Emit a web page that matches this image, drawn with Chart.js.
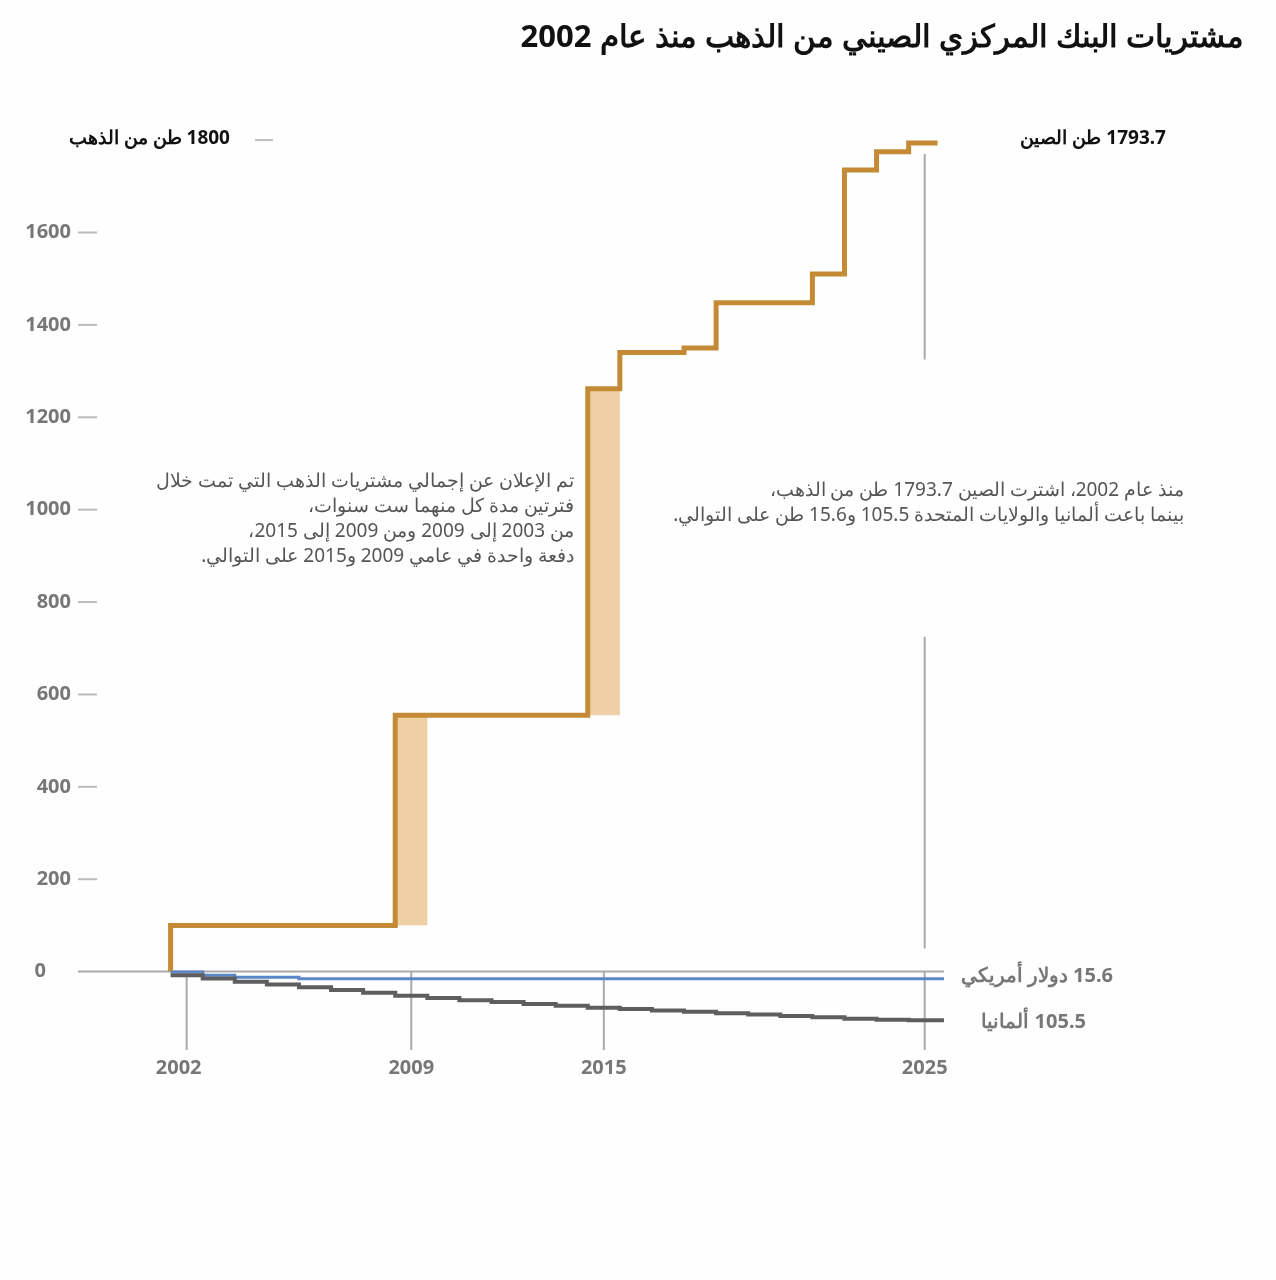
<!DOCTYPE html>
<html>
<head>
<meta charset="utf-8">
<script src="https://cdn.jsdelivr.net/npm/chart.js@4"></script>
<style>
body{margin:0;background:#fff;font-family:"Noto Sans",sans-serif}
#wrap{position:relative;width:1276px;height:1280px;background:#fefefe}
canvas{position:absolute;left:0;top:0}
.t{position:absolute;direction:rtl;white-space:nowrap}
</style>
</head>
<body>
<div id="wrap">
<canvas id="c" width="1276" height="1280"></canvas>
<div class="t" style="right:32px;top:14px;font-size:31px;font-weight:700;color:#111">مشتريات البنك المركزي الصيني من الذهب منذ عام 2002</div>
<div class="t" style="right:702px;top:468px;font-size:19px;line-height:25px;color:#555;text-align:right">تم الإعلان عن إجمالي مشتريات الذهب التي تمت خلال<br>فترتين مدة كل منهما ست سنوات،<br>من 2003 إلى 2009 ومن 2009 إلى 2015،<br>دفعة واحدة في عامي 2009 و2015 على التوالي.</div>
<div class="t" style="right:92px;top:477px;font-size:19px;line-height:25px;color:#555;text-align:right">منذ عام 2002، اشترت الصين 1793.7 طن من الذهب،<br>بينما باعت ألمانيا والولايات المتحدة 105.5 و15.6 طن على التوالي.</div>
<div class="t" style="right:1046px;top:124px;font-size:19px;font-weight:700;color:#111">1800 طن من الذهب</div>
<div class="t" style="right:110px;top:124px;font-size:19px;font-weight:700;color:#111">1793.7 طن الصين</div>
<div class="t" style="right:163px;top:961px;font-size:20px;font-weight:700;color:#777">15.6 دولار أمريكي</div>
<div class="t" style="right:190px;top:1007px;font-size:20px;font-weight:700;color:#777">105.5 ألمانيا</div>
</div>
<script>
const chinaX = [2001.5, 2001.5, 2008.5, 2014.5, 2015.5, 2017.5, 2018.5, 2021.5, 2022.5, 2023.5, 2024.5, 2025.4];
const chinaY = [0, 100, 555, 1262, 1340, 1350, 1448, 1510, 1735, 1775, 1793.7, 1793.7];
const usX = [2001.5, 2002.5, 2003.5, 2005.5, 2025.6];
const usY = [-1, -8, -12, -15.6, -15.6];
const deX = [2001.5, 2002.5, 2003.5, 2004.5, 2005.5, 2006.5, 2007.5, 2008.5, 2009.5, 2010.5, 2011.5, 2012.5, 2013.5, 2014.5, 2015.5, 2016.5, 2017.5, 2018.5, 2019.5, 2020.5, 2021.5, 2022.5, 2023.5, 2024.5, 2025.6];
const deY = [-8, -15, -22, -28, -34, -40, -46, -52, -57, -62, -66, -70, -74, -78, -81, -84, -87, -90, -93, -96, -99, -102, -104, -105.5, -105.5];
const shadeFrom = [2008.5, 2014.5];
const shadeTo = [2009.5, 2015.5];
const shadeLow = [100, 555];
const shadeHigh = [555, 1262];
const yTicks = [0, 200, 400, 600, 800, 1000, 1200, 1400, 1600];
const xYears = [2002, 2009, 2015, 2025];

function pts(xs, ys){ return xs.map((x, i) => ({x: x, y: ys[i]})); }

const deco = {
  id: 'deco',
  beforeDatasetsDraw(chart){
    const ctx = chart.ctx, x = chart.scales.x, y = chart.scales.y;
    ctx.save();
    ctx.fillStyle = '#efcfa6';
    for (let i = 0; i < shadeFrom.length; i++) {
      const x0 = x.getPixelForValue(shadeFrom[i]), x1 = x.getPixelForValue(shadeTo[i]);
      const y0 = y.getPixelForValue(shadeHigh[i]), y1 = y.getPixelForValue(shadeLow[i]);
      ctx.fillRect(x0, y0, x1 - x0, y1 - y0);
    }
    ctx.strokeStyle = '#aaa'; ctx.lineWidth = 2;
    const z = y.getPixelForValue(0);
    ctx.beginPath(); ctx.moveTo(78, z); ctx.lineTo(x.getPixelForValue(2025.6), z); ctx.stroke();
    xYears.forEach(v => {
      const px = x.getPixelForValue(v);
      ctx.beginPath(); ctx.moveTo(px, z); ctx.lineTo(px, 1050); ctx.stroke();
    });
    const px = x.getPixelForValue(2025);
    ctx.beginPath();
    ctx.moveTo(px, y.getPixelForValue(1770)); ctx.lineTo(px, y.getPixelForValue(1325));
    ctx.moveTo(px, y.getPixelForValue(725)); ctx.lineTo(px, y.getPixelForValue(50));
    ctx.stroke();
    ctx.strokeStyle = '#bbb';
    yTicks.forEach(v => {
      const py = y.getPixelForValue(v);
      if (v > 0) { ctx.beginPath(); ctx.moveTo(78, py); ctx.lineTo(97, py); ctx.stroke(); }
    });
    ctx.beginPath(); ctx.moveTo(255, y.getPixelForValue(1800)); ctx.lineTo(273, y.getPixelForValue(1800)); ctx.stroke();
    ctx.fillStyle = '#777';
    ctx.font = 'bold 20px "Noto Sans"';
    ctx.textAlign = 'right'; ctx.textBaseline = 'middle';
    yTicks.forEach(v => ctx.fillText(String(v), v === 0 ? 46 : 71, y.getPixelForValue(v)));
    ctx.textAlign = 'center';
    xYears.forEach(v => ctx.fillText(String(v), x.getPixelForValue(v) - (v === 2002 ? 8 : 0), 1068));
    ctx.restore();
  }
};

new Chart(document.getElementById('c'), {
  type: 'line',
  data: {
    datasets: [
      {data: pts(deX, deY), borderColor: '#5e5e60', borderWidth: 4, stepped: 'before', pointRadius: 0},
      {data: pts(usX, usY), borderColor: '#5b86c8', borderWidth: 3, stepped: 'before', pointRadius: 0},
      {data: pts(chinaX, chinaY), borderColor: '#c58a35', borderWidth: 5, stepped: 'before', pointRadius: 0}
    ]
  },
  options: {
    responsive: false,
    animation: false,
    layout: {padding: {left: 100, right: 316, top: 117, bottom: 216}},
    plugins: {legend: {display: false}, tooltip: {enabled: false}},
    scales: {
      x: {type: 'linear', min: 1999.3, max: 2026.1, display: false},
      y: {min: -200, max: 1850, display: false}
    }
  },
  plugins: [deco]
});
</script>
</body>
</html>
